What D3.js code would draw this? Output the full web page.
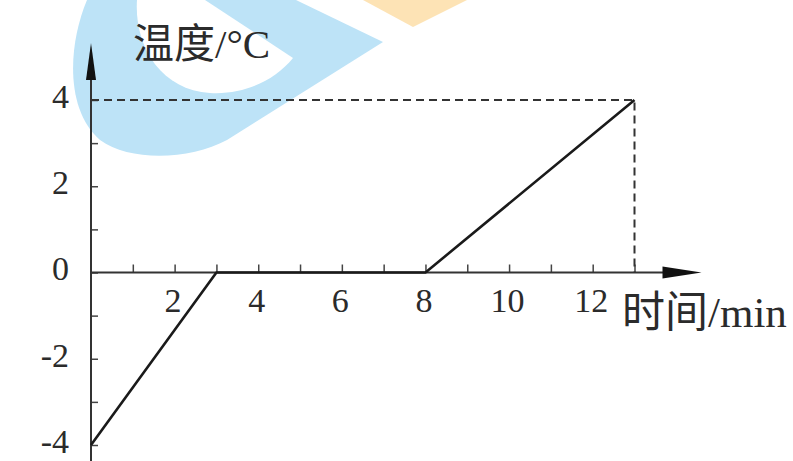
<!DOCTYPE html>
<html>
<head>
<meta charset="utf-8">
<script src="https://cdn.jsdelivr.net/npm/d3@7"></script>
<style>
body { margin: 0; background: #fff; }
text { font-family: "Liberation Serif", "Noto Sans CJK SC", serif; fill: #2b2b2b; }
</style>
</head>
<body>
<div id="chart"></div>
<script>
// graph data: time (min) vs temperature (C)
var timeData = [0, 3, 8, 13];
var tempData = [-4, 0, 0, 4];

var xTickValues = [1, 2, 3, 4, 5, 6, 7, 8, 9, 10, 11, 12, 13];
var xTickLabels = [2, 4, 6, 8, 10, 12];
var yTickValues = [-4, -3, -2, -1, 0, 1, 2, 3, 4];
var yTickLabels = [-4, -2, 0, 2, 4];

var xTitle = "时间/min";
var yTitle = "温度/°C";

var guideTime = 13;
var guideTemp = 4;

var width = 793;
var height = 461;

var x = d3.scaleLinear()
    .domain([0, 13])
    .range([91, 634.5]);

var y = d3.scaleLinear()
    .domain([-4, 4])
    .range([445, 100]);

var svg = d3.select("#chart").append("svg")
    .attr("width", width)
    .attr("height", height);

// watermark in the background
svg.append("path")
    .attr("d", "M87,0 C68,45 65,110 100,140 C130,162 190,160 227,140 L383,42 L296,0 Z")
    .attr("fill", "#bde3f7");
svg.append("path")
    .attr("d", "M137,0 C134,45 160,90 210,93 C245,95 275,80 293,58 L205,0 Z")
    .attr("fill", "#fff");
svg.append("path")
    .attr("d", "M363,0 L413,27 L467,0 Z")
    .attr("fill", "#fde3b5");

// x axis
svg.append("g")
    .attr("transform", `translate(0,${y(0)})`)
    .call(d3.axisBottom(x)
        .tickValues(xTickValues)
        .tickSizeInner(-8)
        .tickSizeOuter(0)
        .tickPadding(15)
        .tickFormat(function (d) { return xTickLabels.indexOf(d) >= 0 ? d : ""; }))
    .call(g => g.select(".domain").remove())
    .call(g => g.selectAll("line").attr("stroke", "#444").attr("stroke-width", 1.5))
    .call(g => g.selectAll("text").attr("font-size", 34).attr("dx", -2));

// y axis
svg.append("g")
    .attr("transform", `translate(${x(0)},0)`)
    .call(d3.axisLeft(y)
        .tickValues(yTickValues)
        .tickSizeInner(-7)
        .tickSizeOuter(0)
        .tickPadding(22)
        .tickFormat(function (d) { return yTickLabels.indexOf(d) >= 0 ? d : ""; }))
    .call(g => g.select(".domain").remove())
    .call(g => g.selectAll("line").attr("stroke", "#444").attr("stroke-width", 1.5))
    .call(g => g.selectAll("text").attr("font-size", 34).attr("dy", "0.22em"));

// axis lines with arrows
svg.append("line")
    .attr("x1", x(0)).attr("y1", height)
    .attr("x2", x(0)).attr("y2", y(4) - 22)
    .attr("stroke", "#333")
    .attr("stroke-width", 2);
svg.append("path")
    .attr("d", `M${x(0) - 5},${y(4) - 20} L${x(0)},${y(4) - 57} L${x(0) + 5},${y(4) - 20} Z`)
    .attr("fill", "#111");

svg.append("line")
    .attr("x1", x(0)).attr("y1", y(0))
    .attr("x2", x(13) + 30).attr("y2", y(0))
    .attr("stroke", "#333")
    .attr("stroke-width", 2);
svg.append("path")
    .attr("d", `M${x(13) + 28},${y(0) - 6} L${x(13) + 67},${y(0)} L${x(13) + 28},${y(0) + 6} Z`)
    .attr("fill", "#111");

// dashed guide lines
svg.append("path")
    .datum([[0, guideTemp], [guideTime, guideTemp], [guideTime, 0]])
    .attr("fill", "none")
    .attr("stroke", "#333")
    .attr("stroke-width", 2)
    .attr("stroke-dasharray", "8,5")
    .attr("d", d3.line()
        .x(function (d) { return x(d[0]) })
        .y(function (d) { return y(d[1]) })
    );

// temperature curve
svg.append("path")
    .datum(d3.zip(timeData, tempData))
    .attr("fill", "none")
    .attr("stroke", "#1a1a1a")
    .attr("stroke-width", 2.6)
    .attr("stroke-linejoin", "round")
    .attr("d", d3.line()
        .x(function (d) { return x(d[0]) })
        .y(function (d) { return y(d[1]) })
    );

// axis titles
svg.append("text")
    .attr("x", 133)
    .attr("y", 58)
    .attr("font-size", 41)
    .text(yTitle);

svg.append("text")
    .attr("x", 622)
    .attr("y", 327)
    .attr("font-size", 43)
    .text(xTitle);
</script>
</body>
</html>
